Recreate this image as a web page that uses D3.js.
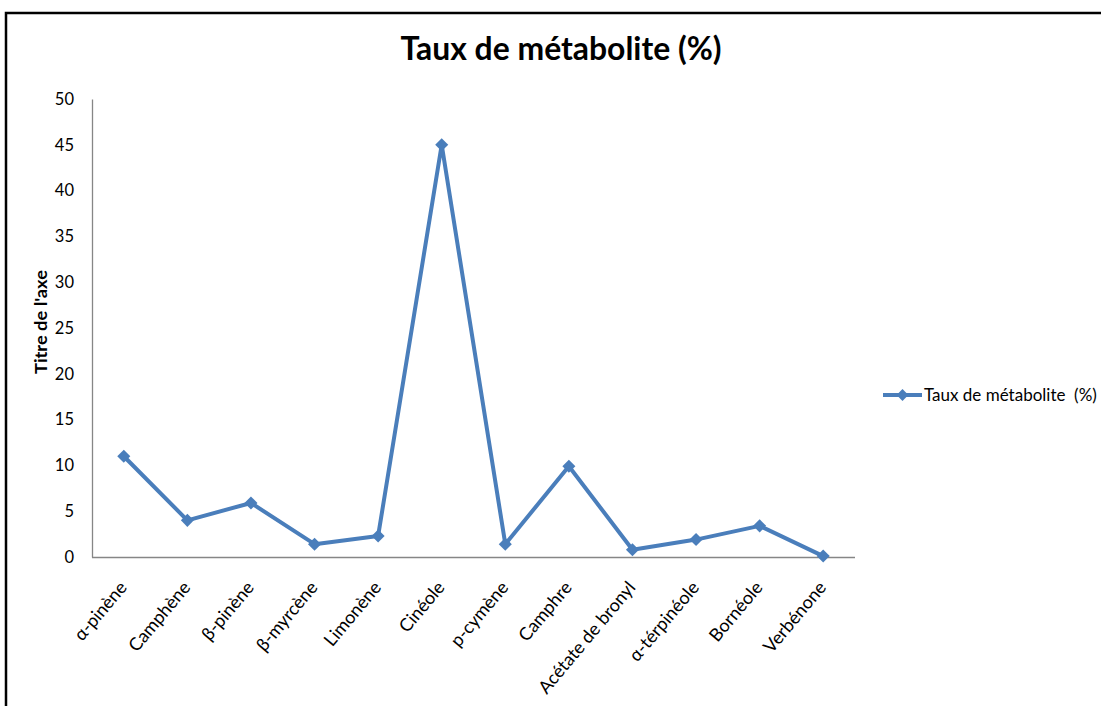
<!DOCTYPE html>
<html>
<head>
<meta charset="utf-8">
<script src="https://cdn.jsdelivr.net/npm/d3@7"></script>
<style>
  html, body { margin: 0; padding: 0; background: #fff; }
  svg { display: block; }
</style>
</head>
<body>
<svg id="chart" width="1101" height="706"></svg>
<script>
const categories = ["α-pinène", "Camphène", "β-pinène", "β-myrcène", "Limonène", "Cinéole",
  "p-cymène", "Camphre", "Acétate de bronyl", "α-térpinéole", "Bornéole", "Verbénone"];
const values = [11, 4, 5.9, 1.4, 2.3, 45, 1.4, 9.9, 0.8, 1.9, 3.4, 0.1];
const yTicks = [0, 5, 10, 15, 20, 25, 30, 35, 40, 45, 50];
const titleText = "Taux de métabolite (%)";
const yAxisTitle = "Titre de l'axe";
const seriesName = "Taux de métabolite  (%)";

const svg = d3.select("#chart");
const font = "Lato, 'Open Sans', sans-serif";
const blue = "#4a7ebb";

// frame
svg.append("path")
  .attr("d", "M6,706 L6,13 L1101,13")
  .attr("fill", "none").attr("stroke", "#000").attr("stroke-width", 2.5);

const x0 = 92, x1 = 855, yTop = 99, yBot = 557;
const x = d3.scalePoint().domain(categories).range([x0, x1]).padding(0.5);
const y = d3.scaleLinear().domain([0, 50]).range([yBot, yTop]);

// title
svg.append("text").attr("x", 561).attr("y", 60)
  .attr("text-anchor", "middle").attr("font-family", font)
  .attr("font-weight", "bold").attr("font-size", 32).attr("fill", "#000")
  .attr("textLength", 321).attr("lengthAdjust", "spacingAndGlyphs")
  .text(titleText);

// y axis
const yAxis = svg.append("g").attr("transform", `translate(${x0},0)`)
  .call(d3.axisLeft(y).tickValues(yTicks).tickSize(0).tickPadding(18));
yAxis.select(".domain").attr("stroke", "#868686").attr("stroke-width", 1.3);
yAxis.selectAll("text").attr("font-family", font).attr("font-size", 16.5).attr("fill", "#000");

// x axis
const xAxis = svg.append("g").attr("transform", `translate(0,${yBot})`)
  .call(d3.axisBottom(x).tickSize(0).tickPadding(0));
xAxis.select(".domain").attr("stroke", "#868686").attr("stroke-width", 1.3)
  .attr("d", `M${x0},0.5H${x1}`);
xAxis.selectAll("text")
  .attr("font-family", font).attr("font-size", 18).attr("fill", "#000")
  .attr("text-anchor", "end").attr("dy", null)
  .attr("transform", d => `translate(0,28) rotate(-50)`)
  .attr("dominant-baseline", "middle");

// y axis title
svg.append("text")
  .attr("transform", `translate(47,${(yTop + yBot) / 2 - 6}) rotate(-90)`)
  .attr("text-anchor", "middle").attr("font-family", font)
  .attr("font-weight", "bold").attr("font-size", 17).attr("fill", "#000")
  .attr("textLength", 104).attr("lengthAdjust", "spacingAndGlyphs")
  .text(yAxisTitle);

// line
const line = d3.line().x((d, i) => x(categories[i])).y(d => y(d));
svg.append("path").datum(values)
  .attr("d", line).attr("fill", "none")
  .attr("stroke", blue).attr("stroke-width", 4).attr("stroke-linejoin", "round");

svg.append("g").selectAll("path").data(values).join("path")
  .attr("d", d3.symbol().type(d3.symbolSquare).size(85))
  .attr("transform", (d, i) => `translate(${x(categories[i])},${y(d)}) rotate(45)`)
  .attr("fill", blue);

// legend
const lg = svg.append("g").attr("transform", "translate(883,395)");
lg.append("line").attr("x1", 0).attr("x2", 39).attr("y1", 0).attr("y2", 0)
  .attr("stroke", blue).attr("stroke-width", 4);
lg.append("path").attr("d", d3.symbol().type(d3.symbolSquare).size(70))
  .attr("transform", "translate(19.5,0) rotate(45)").attr("fill", blue);
lg.append("text").attr("x", 41).attr("y", 0).attr("dy", "0.35em")
  .attr("font-family", font).attr("font-size", 17).attr("fill", "#000")
  .style("white-space", "pre")
  .text(seriesName);
</script>
</body>
</html>
